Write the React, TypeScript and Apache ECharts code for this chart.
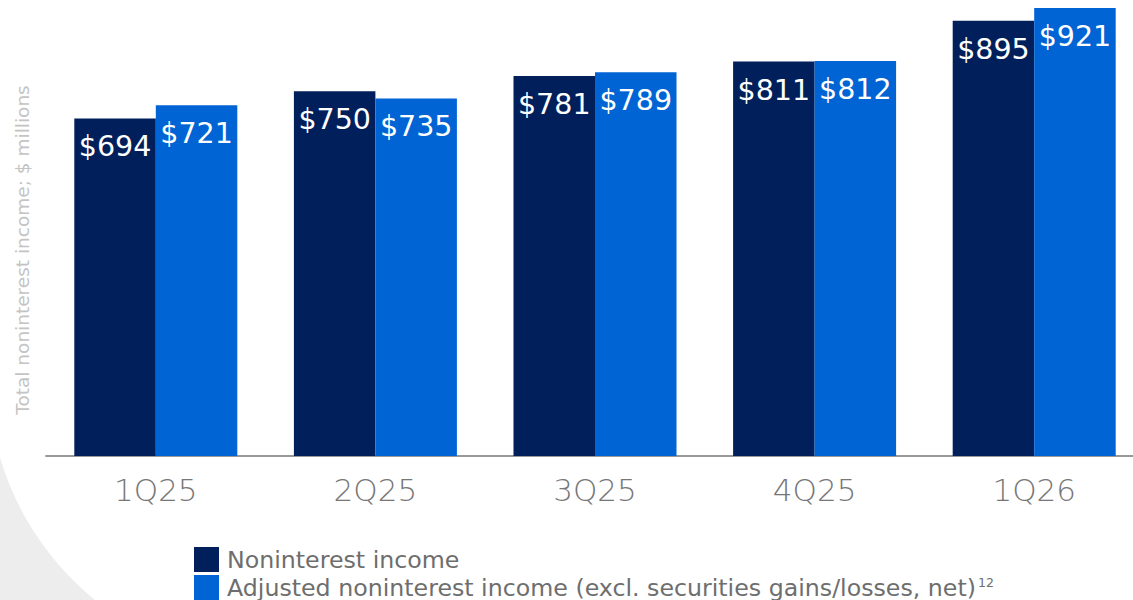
import React, { useEffect, useRef } from "react";
import * as echarts from "echarts";

const categories = ["1Q25", "2Q25", "3Q25", "4Q25", "1Q26"];
const nonInterestIncome = [694, 750, 781, 811, 895];
const adjustedNonInterestIncome = [721, 735, 789, 812, 921];
const seriesNames = [
  "Noninterest income",
  "Adjusted noninterest income (excl. securities gains/losses, net)",
];
const yAxisTitle = "Total noninterest income; $ millions";

const DARK = "#001F5B";
const LIGHT = "#0064D4";
const FONT = "DejaVu Sans";

export default function App() {
  const ref = useRef<HTMLDivElement>(null);
  useEffect(() => {
    document.body.style.margin = "0";
    const chart = echarts.init(ref.current!, undefined, { renderer: "svg" });
    const label = {
      show: true,
      position: "insideTop",
      distance: 14,
      color: "#ffffff",
      fontSize: 28.5,
      fontFamily: FONT,
      formatter: (p: any) => "$" + p.value,
    };
    chart.setOption({
      animation: false,
      backgroundColor: "#ffffff",
      graphic: [
        {
          type: "circle",
          z: -10,
          silent: true,
          shape: { cx: -200, cy: 750, r: 400 },
          style: { fill: "#ededed" },
        },
        {
          type: "circle",
          z: -9,
          silent: true,
          shape: { cx: 278, cy: 375, r: 290 },
          style: { fill: "#ffffff" },
        },
        {
          type: "text",
          x: 22,
          y: 250,
          rotation: Math.PI / 2,
          style: {
            text: yAxisTitle,
            fill: "#c4c4c4",
            fontSize: 18.5,
            fontFamily: FONT,
            textAlign: "center",
            textVerticalAlign: "middle",
          },
        },
      ],
      grid: { left: 46, right: 0, top: 8, bottom: 144, containLabel: false },
      legend: {
        orient: "vertical",
        left: 194,
        top: 547,
        padding: 0,
        itemGap: 3,
        itemWidth: 25,
        itemHeight: 25,
        icon: "rect",
        data: seriesNames,
        textStyle: {
          color: "#6e6e6e",
          fontSize: 23.7,
          fontFamily: FONT,
          padding: [0, 0, 0, 3],
          rich: {
            sup: { fontSize: 12.5, color: "#6e6e6e", fontFamily: FONT, verticalAlign: "top", padding: [0, 0, 10, 2] },
          },
        },
        formatter: (name: string) =>
          name === seriesNames[1] ? name + "{sup|12}" : name,
      },
      xAxis: {
        type: "category",
        data: categories,
        axisLine: { lineStyle: { color: "#999999", width: 2 } },
        axisTick: { show: false },
        axisLabel: {
          color: "#777777",
          fontSize: 31,
          fontFamily: FONT,
          fontWeight: 300,
          margin: 18,
        },
      },
      yAxis: {
        type: "value",
        min: 0,
        max: 921,
        show: false,
        splitLine: { show: false },
      },
      series: [
        {
          name: seriesNames[0],
          type: "bar",
          data: nonInterestIncome,
          barWidth: 81.5,
          barGap: "0%",
          itemStyle: { color: DARK },
          label,
        },
        {
          name: seriesNames[1],
          type: "bar",
          data: adjustedNonInterestIncome,
          barWidth: 81.5,
          barGap: "0%",
          itemStyle: { color: LIGHT },
          label,
        },
      ],
    });
    return () => chart.dispose();
  }, []);
  return (
    <div style={{ width: 1133, height: 600, overflow: "hidden" }}>
      <div ref={ref} style={{ width: 1144, height: 600 }} />
    </div>
  );
}
